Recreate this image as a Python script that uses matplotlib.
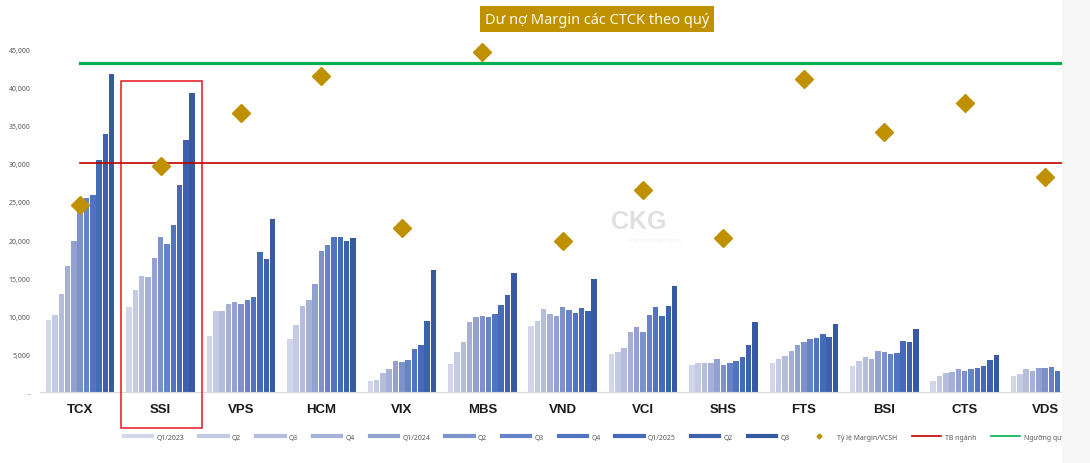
import numpy as np
import matplotlib.pyplot as plt
from matplotlib.lines import Line2D
from matplotlib.patches import Rectangle, Polygon
import matplotlib.transforms as mtransforms

plt.rcParams['font.family'] = ['Noto Sans', 'DejaVu Sans']

# categories and quarters
companies = ['TCX', 'SSI', 'VPS', 'HCM', 'VIX', 'MBS', 'VND', 'VCI', 'SHS', 'FTS', 'BSI', 'CTS', 'VDS']
quarters = ['Q1/2023', 'Q2', 'Q3', 'Q4', 'Q1/2024', 'Q2', 'Q3', 'Q4', 'Q1/2025', 'Q2', 'Q3']

# margin debt per quarter, one list per company
tcx = [9500, 10150, 12870, 16630, 19870, 24300, 25520, 25960, 30560, 33890, 41810]
ssi = [11160, 13480, 15280, 15100, 17640, 20400, 19480, 22020, 27230, 33180, 39310]
vps = [7400, 10720, 10680, 11600, 11900, 11600, 12120, 12480, 18390, 17470, 22770]
hcm = [6960, 8880, 11340, 12120, 14190, 18530, 19310, 20440, 20440, 19830, 20230]
vix = [1520, 1620, 2500, 3020, 4110, 4020, 4200, 5730, 6250, 9330, 16100]
mbs = [3720, 5330, 6570, 9190, 9890, 9980, 9890, 10280, 11470, 12780, 15710]
vnd = [8710, 9330, 10940, 10280, 9980, 11250, 10850, 10380, 11120, 10680, 14880]
vci = [5030, 5330, 5780, 7960, 8580, 7920, 10110, 11250, 10060, 11300, 13960]
shs = [3550, 3810, 3810, 3810, 4410, 3630, 3850, 4110, 4640, 6250, 9190]
fts = [3850, 4380, 4730, 5390, 6250, 6610, 6960, 7090, 7620, 7260, 8930]
bsi = [3500, 4150, 4600, 4330, 5460, 5250, 5030, 5160, 6700, 6610, 8320]
cts = [1480, 2180, 2570, 2710, 3020, 2800, 3100, 3230, 3500, 4240, 4940]
vds = [2180, 2400, 3020, 2760, 3190, 3150, 3320, 2760, np.nan, np.nan, np.nan]  # last ones cut off in the picture
margin = [tcx, ssi, vps, hcm, vix, mbs, vnd, vci, shs, fts, bsi, cts, vds]

# margin / equity ratio, industry average and threshold
ratio = [1.137, 1.372, 1.696, 1.920, 0.996, 2.066, 0.920, 1.228, 0.937, 1.902, 1.580, 1.756, 1.307]
avg_ratio = 1.39
threshold = 2.0

bar_colors = ['#d2d6ea', '#c4cae3', '#b5bddd', '#a6b0d7', '#92a1d0', '#7d91cb',
              '#6683c7', '#5074c0', '#456ab8', '#3e61ad', '#37599f']

fig = plt.figure(figsize=(10.9, 4.64), dpi=100)
ax = fig.add_axes([40 / 1090, 70.7 / 464, 1022 / 1090, 342.6 / 464])

x = np.arange(len(companies))
step = 0.0785
width = 0.068
for q in range(len(quarters)):
    vals = [m[q] for m in margin]
    ax.bar(x + (q - 5) * step, vals, width, color=bar_colors[q], zorder=2)

ax.set_xlim(-0.5, 12.21)
ax.set_ylim(0, 45000)
ax.set_yticks(np.arange(0, 45001, 5000))
ax.yaxis.set_major_formatter(plt.FuncFormatter(lambda v, p: '-' if v == 0 else f'{v:,.0f}'))
ax.tick_params(axis='y', length=0, labelsize=5, labelcolor='#595959', pad=7)
ax.set_xticks(x)
ax.set_xticklabels(companies, fontsize=9.5, fontweight='bold', color='#1a1a1a',
                   family=['Liberation Sans', 'DejaVu Sans'])
ax.tick_params(axis='x', length=0, pad=8)
for s in ['top', 'right', 'left']:
    ax.spines[s].set_visible(False)
ax.spines['bottom'].set_color('#d9d9d9')

# ratio on a hidden second axis
ax2 = ax.twinx()
ax2.set_ylim(0, 2.08)
ax2.axis('off')
ax2.plot([0, len(companies)], [threshold, threshold], color='#00b050', lw=2.3, zorder=3)
ax2.plot([0, len(companies)], [avg_ratio, avg_ratio], color='#c00000', lw=1.2, zorder=3)
ax2.plot(x, ratio, 'D', color='#bf9000', markersize=9.5, linestyle='none', zorder=4, clip_on=False)

# red box round SSI
i = companies.index('SSI')
trans = mtransforms.blended_transform_factory(ax.transData, ax.transAxes)
ax.add_patch(Rectangle((i - 0.49, -0.105), 1.0, 0.195 + 0.82, transform=trans, fill=False,
                       edgecolor='#e8141c', lw=1.1, clip_on=False, zorder=5))

# watermark
fig.text(639 / 1090, 1 - 222 / 464, 'CKG', fontsize=18, fontweight='bold', color='#e0e0e0',
         ha='center', va='center', zorder=0, family=['Liberation Sans', 'DejaVu Sans'])
fig.text(655 / 1090, 1 - 241 / 464, 'CONG TY CO PHAN DAU TU', fontsize=3, color='#ececec',
         ha='center', va='center', zorder=0)
for k in range(3):
    r = 14 + k * 5
    cx, cy = 583, 226
    fig.add_artist(Polygon([((cx - r) / 1090, 1 - cy / 464), (cx / 1090, 1 - (cy - r) / 464),
                            ((cx + r) / 1090, 1 - cy / 464), (cx / 1090, 1 - (cy + r) / 464)],
                           closed=True, fill=False, edgecolor='#f7ecd2', lw=1.2,
                           transform=fig.transFigure, zorder=0))

# title
fig.text(597 / 1090, 1 - 20 / 464, 'Dư nợ Margin các CTCK theo quý', fontsize=10.5, color='#fffbe6',
         ha='center', va='center',
         bbox=dict(boxstyle='square,pad=0.35', facecolor='#bf9000', edgecolor='none'))

# legend
handles = [Line2D([0], [0], color=c, lw=3) for c in bar_colors]
handles.append(Line2D([0], [0], marker='D', color='#bf9000', markersize=2.5, linestyle='none'))
handles.append(Line2D([0], [0], color='#c00000', lw=1.2))
handles.append(Line2D([0], [0], color='#00b050', lw=1.2))
labels = quarters + ['Tỷ lệ Margin/VCSH', 'TB ngành', 'Ngưỡng quỹ']
leg = fig.legend(handles, labels, loc='center left', bbox_to_anchor=(124 / 1090, 1 - 438 / 464),
                 ncol=14, frameon=False, fontsize=5, handlelength=4.1, handletextpad=0.6,
                 columnspacing=2.15, borderaxespad=0, borderpad=0)
for t in leg.get_texts():
    t.set_color('#595959')

# right side strip where the picture is cut
fig.add_artist(Rectangle((1062 / 1090, 0), 1, 1, transform=fig.transFigure,
                         facecolor='#f6f6f6', edgecolor='none', zorder=20))

fig.savefig('out.png', dpi=100)
